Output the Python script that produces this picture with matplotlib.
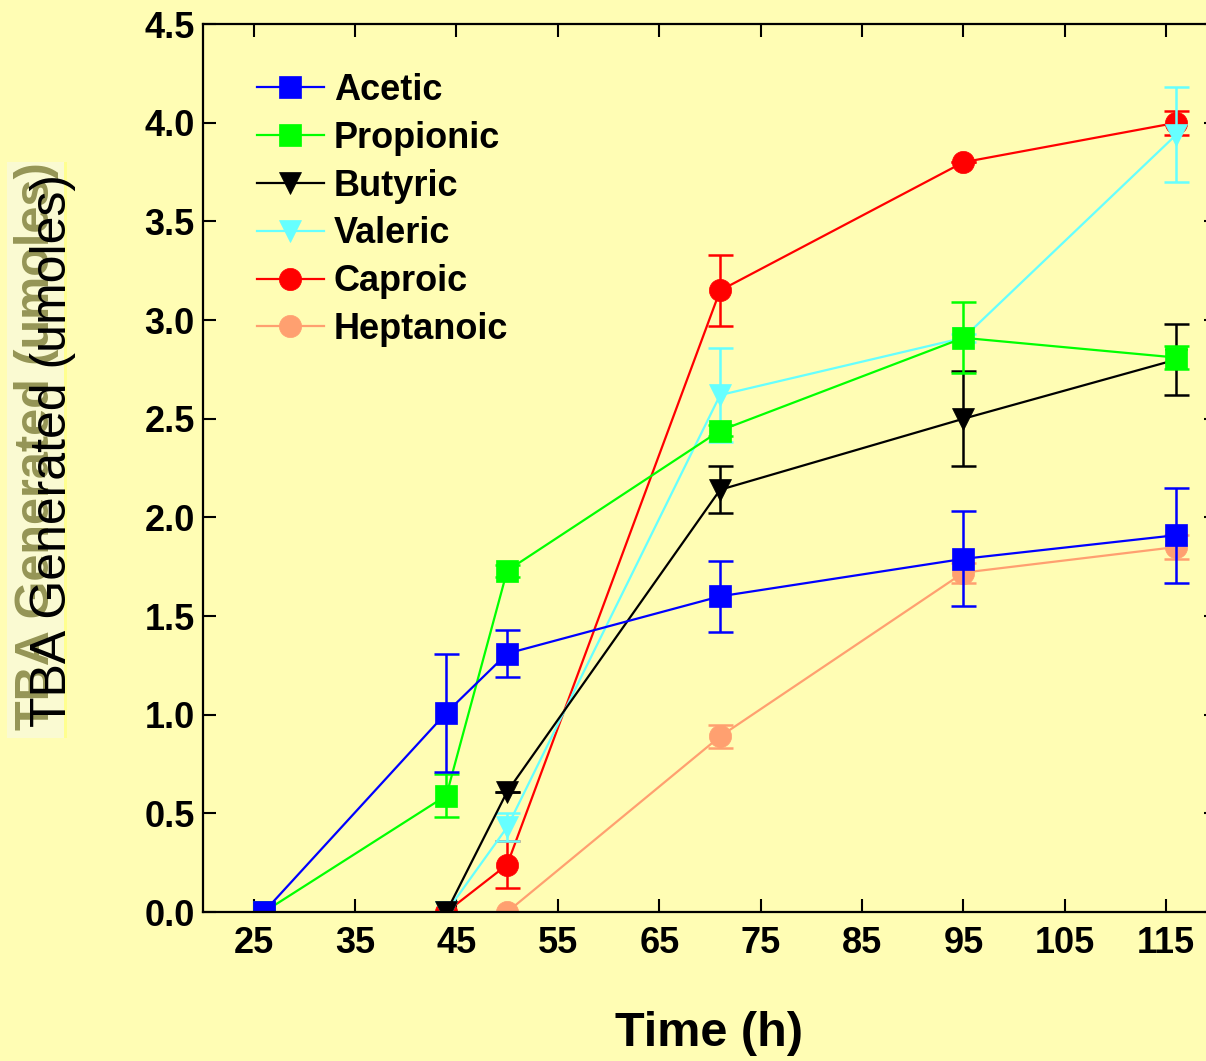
import matplotlib
matplotlib.use("Agg")
import matplotlib.pyplot as plt
from matplotlib.patches import Rectangle

plt.rcParams['font.family'] = ['Liberation Sans', 'DejaVu Sans']

# time points (h)
t_all = [26, 44, 50, 71, 95, 116]
t_44 = [44, 50, 71, 95, 116]
t_50 = [50, 71, 95, 116]

acetic = [0.0, 1.01, 1.31, 1.60, 1.79, 1.91]
acetic_err = [0.0, 0.30, 0.12, 0.18, 0.24, 0.24]
propionic = [0.0, 0.59, 1.73, 2.44, 2.91, 2.81]
propionic_err = [0.0, 0.11, 0.03, 0.03, 0.18, 0.06]
butyric = [0.0, 0.61, 2.14, 2.50, 2.80]
butyric_err = [0.0, 0.0, 0.12, 0.24, 0.18]
valeric = [0.0, 0.43, 2.62, 2.91, 3.94]
valeric_err = [0.0, 0.07, 0.24, 0.02, 0.24]
caproic = [0.0, 0.24, 3.15, 3.80, 4.00]
caproic_err = [0.0, 0.12, 0.18, 0.0, 0.06]
heptanoic = [0.0, 0.89, 1.72, 1.85]
heptanoic_err = [0.0, 0.06, 0.05, 0.06]

bg = '#FFFDB4'
fig = plt.figure(figsize=(12.06, 10.61), dpi=100, facecolor=bg)
ax = fig.add_axes([0.1683, 0.1404, 0.8408, 0.8369], facecolor=bg)

series = [
    ("Acetic", t_all, acetic, acetic_err, '#0000FF', 's', 16),
    ("Propionic", t_all, propionic, propionic_err, '#00FF00', 's', 16),
    ("Butyric", t_44, butyric, butyric_err, '#000000', 'v', 16),
    ("Valeric", t_44, valeric, valeric_err, '#66FFFF', 'v', 16),
    ("Caproic", t_44, caproic, caproic_err, '#FF0000', 'o', 16),
    ("Heptanoic", t_50, heptanoic, heptanoic_err, '#FFA070', 'o', 16),
]

n = len(series)
handles = []
for i, (name, t, y, e, c, m, ms) in enumerate(series):
    ax.errorbar(t, y, yerr=e, color=c, fmt='none', elinewidth=1.8,
                capsize=9, capthick=1.8, zorder=10 + 2 * (n - i))
    ln, = ax.plot(t, y, color=c, marker=m, markersize=ms, lw=1.6,
                  markeredgecolor=c, markeredgewidth=0.5, label=name,
                  zorder=11 + 2 * (n - i))
    handles.append(ln)

ax.set_xlim(20, 120)
ax.set_ylim(0, 4.5)
ax.set_xticks(range(25, 120, 10))
ax.set_yticks([0, 0.5, 1.0, 1.5, 2.0, 2.5, 3.0, 3.5, 4.0, 4.5])
ax.set_yticklabels([f"{v:.1f}" for v in ax.get_yticks()])
ax.tick_params(direction='in', length=9.5, width=1.5, top=True, right=True,
               labelsize=26, pad=6)
for lab in ax.get_xticklabels() + ax.get_yticklabels():
    lab.set_fontweight('bold')
ax.tick_params(axis='x', pad=10)
for s in ax.spines.values():
    s.set_linewidth(1.6)
    s.set_zorder(40)

leg = ax.legend(handles=handles, loc='upper left', bbox_to_anchor=(0.053, 0.945),
                frameon=False, prop={'weight': 'bold', 'size': 26},
                handlelength=1.85, handletextpad=0.28, labelspacing=0.355,
                borderpad=0, borderaxespad=0, numpoints=1)

# y label with shadowed ghost copy
fig.patches.append(Rectangle((0.0058, 0.3044), 0.0498, 0.543,
                             transform=fig.transFigure, facecolor='#FAFAD2',
                             edgecolor='none', zorder=0))
fig.patches.append(Rectangle((0.0531, 0.3044), 0.0025, 0.543,
                             transform=fig.transFigure, facecolor='#FFFF90',
                             edgecolor='none', zorder=0))
fig.text(37 / 1206, 1 - 446 / 1061, "TBA Generated (umoles)", rotation=90,
         ha='center', va='center', fontsize=35, fontweight='bold',
         color='#8A8A48', alpha=0.9)
fig.text(53 / 1206, 1 - 450 / 1061, "TBA Generated (umoles)", rotation=90,
         ha='center', va='center', fontsize=36, color='black')

fig.text(709 / 1206, 1 - 1034 / 1061, "Time (h)", ha='center', va='center',
         fontsize=35, fontweight='bold')

fig.savefig("out.png", dpi=100, facecolor=bg)
